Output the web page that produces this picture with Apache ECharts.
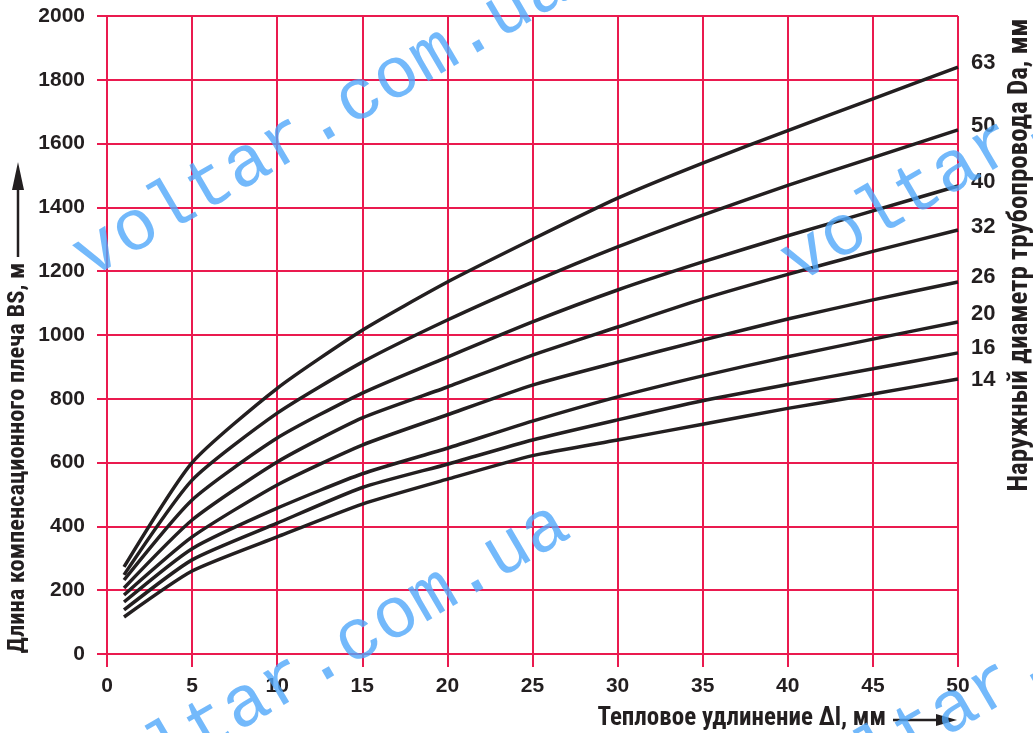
<!DOCTYPE html>
<html>
<head>
<meta charset="utf-8">
<script src="https://cdn.jsdelivr.net/npm/echarts@6/dist/echarts.min.js"></script>
<style>
html,body{margin:0;padding:0;background:#fff;}
#chart{width:1033px;height:733px;}
</style>
</head>
<body>
<div id="chart"></div>
<script>
// ---- data ----
const xValues = [1, 5, 10, 15, 20, 25, 30, 35, 40, 45, 50];
const diameters = ['63', '50', '40', '32', '26', '20', '16', '14'];
const bs63 = [273, 600, 833, 1015, 1166, 1300, 1429, 1539, 1641, 1740, 1840];
const bs50 = [248, 545, 755, 915, 1047, 1166, 1276, 1376, 1469, 1556, 1643];
const bs40 = [232, 483, 677, 818, 931, 1041, 1141, 1229, 1311, 1389, 1467];
const bs32 = [207, 420, 602, 740, 837, 937, 1025, 1113, 1190, 1262, 1329];
const bs26 = [185, 367, 530, 655, 750, 843, 915, 984, 1050, 1110, 1166];
const bs20 = [163, 330, 457, 565, 645, 730, 806, 872, 932, 987, 1041];
const bs16 = [138, 295, 410, 522, 595, 671, 734, 794, 845, 894, 944];
const bs14 = [116, 260, 367, 470, 548, 622, 671, 720, 770, 815, 862];
const seriesValues = [bs63, bs50, bs40, bs32, bs26, bs20, bs16, bs14];
const xTicks = [0, 5, 10, 15, 20, 25, 30, 35, 40, 45, 50];
const yTicks = [0, 200, 400, 600, 800, 1000, 1200, 1400, 1600, 1800, 2000];

// ---- styles ----
const RED = '#ea1a4f';
const INK = '#231f20';
const labelDy = [-4, -4, -4, -3, -5, -8, -5, 1];
const NARROW = '"Liberation Sans Narrow", "Roboto Condensed", "DejaVu Sans Condensed", "Liberation Sans", sans-serif';
const SANS = '"Liberation Sans", Arial, sans-serif';
const WM = 'rgba(80,168,250,0.8)';

const chart = echarts.init(document.getElementById('chart'), null, {renderer: 'canvas'});

const series = diameters.map((d, i) => ({
  name: d,
  type: 'line',
  data: xValues.map((x, j) => [x, seriesValues[i][j]]),
  symbol: 'none',
  smooth: 0.2,
  lineStyle: {color: INK, width: 3.5},
  z: 3,
  endLabel: {
    show: true,
    formatter: '{a}',
    distance: 13,
    offset: [0, labelDy[i]],
    color: INK,
    fontSize: 22,
    fontWeight: 'bold',
    fontFamily: SANS
  },
  emphasis: {disabled: true},
  animation: false
}));

function watermark(cx, cy) {
  return {
    type: 'text', x: cx, y: cy, rotation: 30.3 * Math.PI / 180, z: 50, silent: true,
    style: {
      text: 'voltar.com.ua', font: '72px "Liberation Mono", "DejaVu Sans Mono", monospace',
      fill: WM, textAlign: 'center', textVerticalAlign: 'middle', align: 'center', verticalAlign: 'middle'
    }
  };
}

const option = {
  animation: false,
  backgroundColor: '#fff',
  grid: {left: 107, right: 75, top: 16, bottom: 79, containLabel: false},
  xAxis: {
    type: 'value', min: xTicks[0], max: xTicks[xTicks.length - 1], interval: xTicks[1] - xTicks[0],
    axisLine: {show: true, onZero: false, lineStyle: {color: RED, width: 2}},
    axisTick: {show: true, length: 13, lineStyle: {color: RED, width: 2}},
    axisLabel: {margin: 22, color: INK, fontSize: 21, fontWeight: 'bold', fontFamily: SANS,
                formatter: v => String(v)},
    splitLine: {show: true, lineStyle: {color: RED, width: 2}}
  },
  yAxis: {
    type: 'value', min: yTicks[0], max: yTicks[yTicks.length - 1], interval: yTicks[1] - yTicks[0],
    axisLine: {show: true, lineStyle: {color: RED, width: 2}},
    axisTick: {show: true, length: 10, lineStyle: {color: RED, width: 2}},
    axisLabel: {margin: 22, color: INK, fontSize: 21, fontWeight: 'bold', fontFamily: SANS,
                formatter: v => String(v)},
    splitLine: {show: true, lineStyle: {color: RED, width: 2}}
  },
  series: series,
  graphic: [
    // y axis title + arrow
    {type: 'text', x: 18, y: 458, rotation: Math.PI / 2, silent: true,
     style: {text: 'Длина компенсационного плеча BS, м', font: 'bold 24.5px ' + NARROW, fill: INK,
             textAlign: 'center', textVerticalAlign: 'middle', align: 'center', verticalAlign: 'middle'}},
    {type: 'line', silent: true, shape: {x1: 18, y1: 257, x2: 18, y2: 185}, style: {stroke: INK, lineWidth: 2.5}},
    {type: 'polygon', silent: true, shape: {points: [[12, 190], [24, 190], [18, 162]]}, style: {fill: INK}},
    // right title
    {type: 'text', x: 1020, y: 255, rotation: Math.PI / 2, silent: true,
     style: {text: 'Наружный диаметр трубопровода Da, мм', font: 'bold 27px ' + NARROW, fill: INK,
             textAlign: 'center', textVerticalAlign: 'middle', align: 'center', verticalAlign: 'middle'}},
    // x axis title + arrow
    {type: 'text', x: 886, y: 719, silent: true,
     style: {text: 'Тепловое удлинение ∆l, мм', font: 'bold 25px ' + NARROW, fill: INK,
             textAlign: 'right', textVerticalAlign: 'middle', align: 'right', verticalAlign: 'middle'}},
    {type: 'line', silent: true, shape: {x1: 893, y1: 720, x2: 940, y2: 720}, style: {stroke: INK, lineWidth: 2.5}},
    {type: 'polygon', silent: true, shape: {points: [[936, 714], [936, 726], [957, 720]]}, style: {fill: INK}},
    // watermarks
    watermark(322, 121), watermark(321, 661), watermark(1030, 126), watermark(1029, 666)
  ]
};
chart.setOption(option);
</script>
</body>
</html>
